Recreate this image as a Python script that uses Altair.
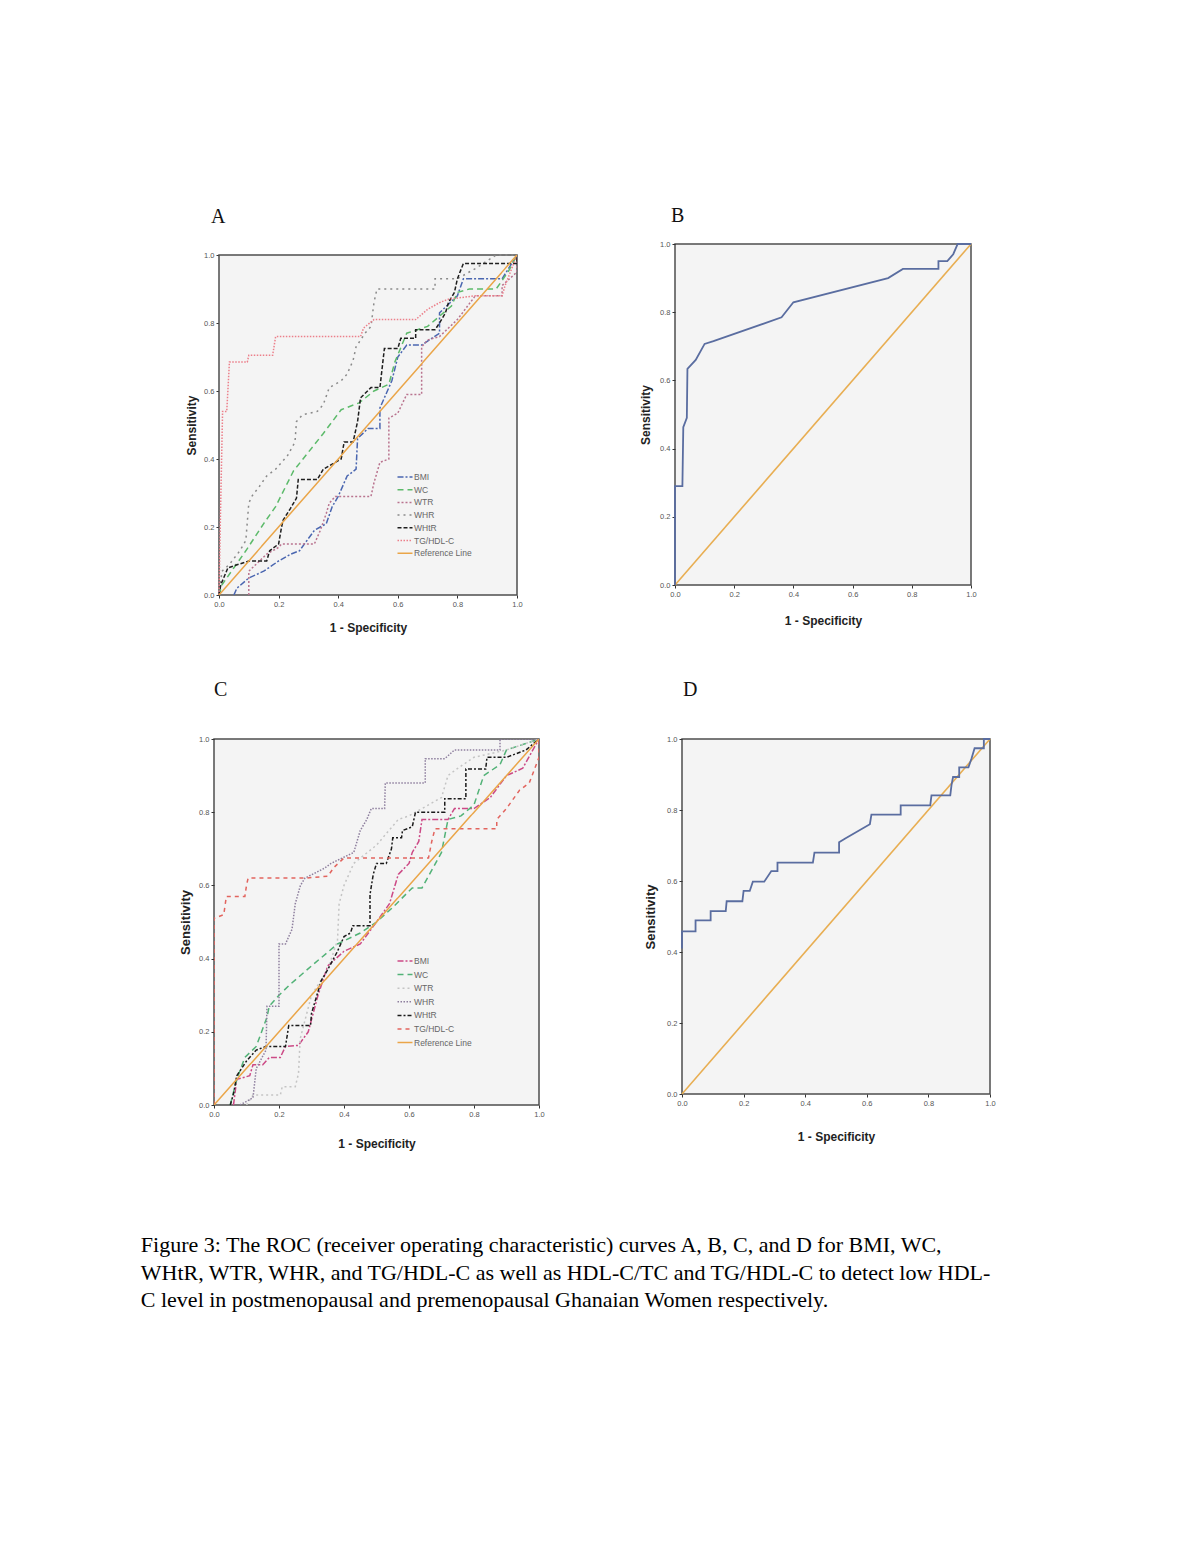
import altair as alt
import pandas as pd

SERIES = ["BMI", "WC", "WTR", "WHR", "WHtR", "TG/HDL-C", "Reference Line"]

# ---------------- Panel A (postmenopausal, anthropometric indices) ----------------
A_BMI_x = [0.05, 0.06, 0.10, 0.15, 0.20, 0.24, 0.27, 0.32, 0.36, 0.38, 0.40, 0.43, 0.46, 0.465, 0.50, 0.54, 0.54, 0.58, 0.60, 0.63, 0.68, 0.74, 0.74, 0.80, 0.82, 0.95, 1.00]
A_BMI_y = [0.00, 0.02, 0.05, 0.07, 0.10, 0.12, 0.13, 0.19, 0.21, 0.26, 0.29, 0.35, 0.37, 0.46, 0.49, 0.49, 0.55, 0.63, 0.70, 0.735, 0.735, 0.77, 0.83, 0.88, 0.93, 0.93, 1.00]

A_WC_x = [0.00, 0.01, 0.05, 0.09, 0.15, 0.19, 0.25, 0.30, 0.35, 0.41, 0.47, 0.52, 0.57, 0.59, 0.63, 0.70, 0.74, 0.78, 0.80, 0.84, 0.93, 0.97, 1.00]
A_WC_y = [0.00, 0.03, 0.08, 0.13, 0.21, 0.26, 0.365, 0.42, 0.475, 0.545, 0.565, 0.60, 0.62, 0.685, 0.77, 0.79, 0.82, 0.85, 0.89, 0.90, 0.90, 0.95, 1.00]

A_WTR_x = [0.10, 0.10, 0.16, 0.20, 0.21, 0.32, 0.34, 0.36, 0.37, 0.39, 0.51, 0.52, 0.54, 0.57, 0.57, 0.60, 0.63, 0.68, 0.68, 0.70, 0.74, 0.80, 0.86, 0.95, 0.95, 1.00, 1.00]
A_WTR_y = [0.00, 0.07, 0.12, 0.14, 0.15, 0.15, 0.19, 0.24, 0.27, 0.29, 0.29, 0.33, 0.39, 0.40, 0.52, 0.535, 0.59, 0.59, 0.73, 0.75, 0.76, 0.81, 0.88, 0.88, 0.91, 0.95, 1.00]

A_WHR_x = [0.00, 0.01, 0.035, 0.07, 0.09, 0.10, 0.11, 0.136, 0.16, 0.19, 0.23, 0.255, 0.26, 0.28, 0.33, 0.35, 0.37, 0.41, 0.43, 0.45, 0.46, 0.49, 0.51, 0.52, 0.53, 0.725, 0.725, 0.80, 0.86, 0.93, 1.00]
A_WHR_y = [0.00, 0.07, 0.09, 0.13, 0.16, 0.27, 0.29, 0.32, 0.35, 0.37, 0.41, 0.45, 0.51, 0.53, 0.54, 0.56, 0.61, 0.63, 0.65, 0.69, 0.73, 0.77, 0.79, 0.86, 0.90, 0.90, 0.93, 0.93, 0.96, 1.00, 1.00]

A_WHtR_x = [0.00, 0.006, 0.03, 0.10, 0.16, 0.17, 0.20, 0.21, 0.215, 0.24, 0.26, 0.266, 0.33, 0.35, 0.41, 0.42, 0.45, 0.465, 0.475, 0.51, 0.54, 0.555, 0.60, 0.61, 0.66, 0.66, 0.725, 0.74, 0.76, 0.77, 0.79, 0.80, 0.82, 1.00, 1.00]
A_WHtR_y = [0.00, 0.03, 0.08, 0.10, 0.10, 0.13, 0.15, 0.20, 0.22, 0.255, 0.285, 0.34, 0.34, 0.37, 0.40, 0.45, 0.45, 0.51, 0.58, 0.61, 0.61, 0.725, 0.725, 0.755, 0.755, 0.78, 0.78, 0.80, 0.83, 0.86, 0.89, 0.93, 0.975, 0.975, 1.00]

A_TG_x = [0.00, 0.005, 0.012, 0.026, 0.035, 0.095, 0.10, 0.18, 0.19, 0.475, 0.485, 0.52, 0.66, 0.70, 0.74, 0.77, 0.86, 0.95, 0.96, 1.00]
A_TG_y = [0.00, 0.24, 0.54, 0.54, 0.685, 0.685, 0.705, 0.705, 0.76, 0.76, 0.785, 0.81, 0.81, 0.84, 0.86, 0.87, 0.88, 0.88, 0.91, 1.00]

REF_X = [0.0, 1.0]
REF_Y = [0.0, 1.0]

# ---------------- Panel B (postmenopausal, HDL-C/TC) ----------------
B_x = [0.00, 0.00, 0.025, 0.028, 0.04, 0.042, 0.07, 0.10, 0.13, 0.36, 0.40, 0.72, 0.77, 0.89, 0.89, 0.92, 0.94, 0.955, 1.00]
B_y = [0.00, 0.29, 0.29, 0.463, 0.49, 0.634, 0.66, 0.707, 0.715, 0.785, 0.829, 0.90, 0.927, 0.927, 0.95, 0.95, 0.97, 1.00, 1.00]

# ---------------- Panel C (premenopausal, anthropometric indices) ----------------
C_BMI_x = [0.06, 0.07, 0.11, 0.12, 0.15, 0.17, 0.204, 0.22, 0.26, 0.29, 0.32, 0.35, 0.40, 0.45, 0.50, 0.54, 0.567, 0.60, 0.61, 0.63, 0.64, 0.72, 0.74, 0.80, 0.85, 0.90, 0.95, 1.00]
C_BMI_y = [0.00, 0.07, 0.08, 0.11, 0.11, 0.13, 0.13, 0.16, 0.163, 0.20, 0.30, 0.38, 0.42, 0.44, 0.50, 0.55, 0.63, 0.66, 0.69, 0.72, 0.78, 0.78, 0.81, 0.81, 0.84, 0.90, 0.92, 1.00]

C_WC_x = [0.05, 0.07, 0.095, 0.13, 0.163, 0.17, 0.20, 0.23, 0.30, 0.38, 0.45, 0.50, 0.55, 0.61, 0.64, 0.70, 0.72, 0.76, 0.80, 0.83, 0.88, 0.90, 1.00]
C_WC_y = [0.00, 0.07, 0.13, 0.16, 0.24, 0.27, 0.30, 0.326, 0.38, 0.44, 0.47, 0.50, 0.54, 0.593, 0.593, 0.69, 0.78, 0.79, 0.82, 0.90, 0.93, 0.97, 1.00]

C_WTR_x = [0.10, 0.12, 0.204, 0.21, 0.25, 0.26, 0.265, 0.30, 0.35, 0.38, 0.385, 0.40, 0.43, 0.50, 0.567, 0.60, 0.70, 0.72, 0.75, 0.80, 0.90, 1.00]
C_WTR_y = [0.00, 0.027, 0.027, 0.05, 0.05, 0.086, 0.18, 0.30, 0.37, 0.45, 0.55, 0.60, 0.66, 0.71, 0.78, 0.79, 0.84, 0.90, 0.92, 0.95, 0.97, 1.00]

C_WHR_x = [0.08, 0.12, 0.13, 0.16, 0.163, 0.20, 0.20, 0.22, 0.24, 0.25, 0.266, 0.28, 0.34, 0.36, 0.43, 0.45, 0.47, 0.484, 0.525, 0.527, 0.65, 0.65, 0.71, 0.74, 0.88, 0.88, 1.00]
C_WHR_y = [0.00, 0.02, 0.10, 0.15, 0.27, 0.27, 0.44, 0.44, 0.48, 0.55, 0.60, 0.62, 0.647, 0.66, 0.69, 0.75, 0.78, 0.81, 0.81, 0.88, 0.88, 0.946, 0.946, 0.97, 0.97, 1.00, 1.00]

C_WHtR_x = [0.05, 0.06, 0.07, 0.10, 0.13, 0.16, 0.22, 0.23, 0.297, 0.30, 0.31, 0.33, 0.35, 0.38, 0.40, 0.42, 0.427, 0.48, 0.48, 0.49, 0.50, 0.53, 0.546, 0.55, 0.577, 0.58, 0.61, 0.62, 0.71, 0.71, 0.775, 0.775, 0.836, 0.84, 0.90, 0.96, 1.00]
C_WHtR_y = [0.00, 0.03, 0.08, 0.12, 0.15, 0.16, 0.16, 0.217, 0.217, 0.25, 0.28, 0.34, 0.37, 0.42, 0.46, 0.47, 0.49, 0.49, 0.575, 0.63, 0.66, 0.66, 0.70, 0.73, 0.73, 0.75, 0.76, 0.80, 0.80, 0.837, 0.837, 0.918, 0.918, 0.95, 0.95, 0.97, 1.00]

C_TG_x = [0.00, 0.00, 0.03, 0.038, 0.095, 0.10, 0.105, 0.28, 0.35, 0.37, 0.40, 0.66, 0.67, 0.68, 0.87, 0.87, 0.90, 0.94, 0.97, 1.00, 1.00]
C_TG_y = [0.00, 0.51, 0.52, 0.57, 0.57, 0.60, 0.62, 0.62, 0.625, 0.65, 0.675, 0.675, 0.72, 0.755, 0.755, 0.78, 0.81, 0.86, 0.88, 0.95, 1.00]

# ---------------- Panel D (premenopausal, TG/HDL-C) ----------------
D_x = [0.00, 0.00, 0.044, 0.044, 0.093, 0.093, 0.142, 0.145, 0.196, 0.20, 0.22, 0.23, 0.267, 0.29, 0.31, 0.31, 0.425, 0.43, 0.51, 0.51, 0.53, 0.61, 0.615, 0.71, 0.71, 0.806, 0.81, 0.871, 0.875, 0.88, 0.90, 0.90, 0.93, 0.94, 0.95, 0.98, 0.98, 1.00]
D_y = [0.41, 0.458, 0.458, 0.489, 0.489, 0.515, 0.515, 0.543, 0.543, 0.572, 0.572, 0.598, 0.598, 0.628, 0.628, 0.652, 0.652, 0.68, 0.68, 0.709, 0.72, 0.76, 0.787, 0.787, 0.813, 0.813, 0.841, 0.841, 0.87, 0.893, 0.893, 0.92, 0.92, 0.945, 0.974, 0.974, 1.00, 1.00]

A_COLORS = ["#4a66b0", "#5cba6a", "#b9738e", "#8a8a8a", "#1e1e1e", "#ec7f8a", "#eaa548"]
C_COLORS = ["#cc4a86", "#52b277", "#c4c4c4", "#8e7f9e", "#1a1a1a", "#e2645e", "#eaa548"]
A_DASHES = [[6, 2, 2, 2], [6, 4], [2, 2], [2, 4], [4, 2], [1.5, 1.5], [1, 0]]
C_DASHES = [[6, 2, 2, 2], [6, 4], [2, 3], [1.5, 1.5], [4, 2, 2, 2], [4, 4], [1, 0]]
WIDTHS = [1.5, 1.5, 1.5, 1.5, 2.2, 1.5, 1.6]

CURVE_COLOR = "#5a6da0"
REF_COLOR = "#e8ae52"
PLOT_FILL = "#f4f4f4"
PLOT_STROKE = "#4d4d4d"

CAPTION = [
    "Figure 3: The ROC (receiver operating characteristic) curves A, B, C, and D for BMI, WC,",
    "WHtR, WTR, WHR, and TG/HDL-C as well as HDL-C/TC and TG/HDL-C to detect low HDL-",
    "C level in postmenopausal and premenopausal Ghanaian Women respectively.",
]

SANS = "Liberation Sans"
SERIF = "Liberation Serif"


def axis(title, title_size, title_pad, offset=0):
    return alt.Axis(
        values=[0, 0.2, 0.4, 0.6, 0.8, 1.0], format=".1f", grid=False, domain=False,
        tickSize=3, tickColor="#333", tickWidth=1, labelFontSize=7.5, labelColor="#555",
        labelFont=SANS, labelPadding=2, labelFlush=False, title=title, titleFont=SANS,
        titleFontSize=title_size, titleFontWeight="bold", titleColor="#222",
        titlePadding=title_pad, offset=offset,
    )


def xenc(tp, rng=None, offset=0):
    sc = alt.Scale(domain=[0, 1], nice=False, range=rng) if rng else alt.Scale(domain=[0, 1], nice=False)
    return alt.X("x:Q", scale=sc, axis=axis("1 - Specificity", 12, tp, offset))


def yenc(ts, tp, rng=None, offset=0):
    sc = alt.Scale(domain=[0, 1], nice=False, range=rng) if rng else alt.Scale(domain=[0, 1], nice=False)
    return alt.Y("y:Q", scale=sc, axis=axis("Sensitivity", ts, tp, offset))


def panel_title(t, offset, dx):
    return alt.TitleParams(t, anchor="start", frame="group", font=SERIF, fontSize=20,
                           fontWeight="normal", color="#111", offset=offset, dx=dx,
                           baseline="alphabetic")


def frame(pairs):
    rows = []
    for name, xs, ys in pairs:
        for i, (x, y) in enumerate(zip(xs, ys)):
            rows.append({"s": name, "x": x, "y": y, "i": i})
    return pd.DataFrame(rows)


def legend(lx, ly, row_pad):
    return alt.Legend(orient="none", legendX=lx, legendY=ly, title=None,
                      symbolType="M-1.5,0H1.5", symbolSize=100, symbolStrokeWidth=1.5,
                      labelFontSize=8.5, labelFont=SANS, labelColor="#666",
                      rowPadding=row_pad, labelOffset=3, padding=0)


def curves(df, colors, dashes, leg, x, y):
    return alt.Chart(df).mark_line(clip=True).encode(
        x=x, y=y,
        color=alt.Color("s:N", scale=alt.Scale(domain=SERIES, range=colors), legend=leg),
        strokeDash=alt.StrokeDash("s:N", scale=alt.Scale(domain=SERIES, range=dashes), legend=leg),
        strokeWidth=alt.StrokeWidth("s:N", scale=alt.Scale(domain=SERIES, range=WIDTHS), legend=None),
        order=alt.Order("i:Q"),
    )


# Panel A: its view is a little taller and wider than its plot frame, so that the
# frame sits lower and further right than panel B / panel C, as in the original figure.
A_W, A_H, A_DX, A_DY = 303, 351, 5, 11
a_df = frame([("BMI", A_BMI_x, A_BMI_y), ("WC", A_WC_x, A_WC_y), ("WTR", A_WTR_x, A_WTR_y),
              ("WHR", A_WHR_x, A_WHR_y), ("WHtR", A_WHtR_x, A_WHtR_y), ("TG/HDL-C", A_TG_x, A_TG_y),
              ("Reference Line", REF_X, REF_Y)])
a_x = xenc(15, [A_DX, A_W])
a_y = yenc(12, 5, [A_H, A_DY], offset=-A_DX)
a_box = alt.Chart(pd.DataFrame({"x": [REF_X[0]], "x2": [REF_X[1]], "y": [REF_Y[0]], "y2": [REF_Y[1]]})).mark_rect(
    fill=PLOT_FILL, stroke=PLOT_STROKE, strokeWidth=1.5).encode(x=a_x, x2="x2:Q", y=a_y, y2="y2:Q")
a_lines = curves(a_df, A_COLORS, A_DASHES, legend(185, 227, 1.7), a_x, a_y)
panel_a = alt.layer(a_box, a_lines).properties(
    width=A_W, height=A_H, title=panel_title("A", 1, -3),
    view=alt.ViewBackground(fill="transparent", stroke="transparent"))


def single_panel(xs, ys, w, h, title, ts, tp_x, tp_y):
    curve = alt.Chart(frame([("c", xs, ys)])).mark_line(color=CURVE_COLOR, strokeWidth=1.8).encode(
        x=xenc(tp_x), y=yenc(ts, tp_y), order=alt.Order("i:Q"))
    ref = alt.Chart(frame([("r", REF_X, REF_Y)])).mark_line(color=REF_COLOR, strokeWidth=1.6).encode(
        x="x:Q", y="y:Q", order=alt.Order("i:Q"))
    return alt.layer(ref, curve).properties(width=w, height=h, title=title)


panel_b = single_panel(B_x, B_y, 296, 341, panel_title("B", -2, -4), 12, 18, 7)

c_df = frame([("BMI", C_BMI_x, C_BMI_y), ("WC", C_WC_x, C_WC_y), ("WTR", C_WTR_x, C_WTR_y),
              ("WHR", C_WHR_x, C_WHR_y), ("WHtR", C_WHtR_x, C_WHtR_y), ("TG/HDL-C", C_TG_x, C_TG_y),
              ("Reference Line", REF_X, REF_Y)])
panel_c = curves(c_df, C_COLORS, C_DASHES, legend(185, 216, 2.6), xenc(21), yenc(13, 6)).properties(
    width=325, height=366, title=panel_title("C", 19, 0))

panel_d = single_panel(D_x, D_y, 308, 355, panel_title("D", 19, 1), 13, 25, 9)

RES = dict(color="independent", strokeDash="independent", strokeWidth="independent")

top = alt.hconcat(panel_a, panel_b, spacing=115).resolve_scale(**RES).resolve_legend(**RES)
bottom = alt.hconcat(panel_c, panel_d, spacing=98).resolve_scale(**RES).resolve_legend(**RES)

chart = alt.vconcat(top, bottom, spacing=44).resolve_scale(**RES).resolve_legend(**RES).properties(
    title=alt.TitleParams(CAPTION, orient="bottom", anchor="start", font=SERIF, fontSize=22,
                          fontWeight="normal", color="#000", lineHeight=27.5, offset=85, dx=-38),
    padding={"left": 132, "top": 197, "right": 10, "bottom": 10},
    background="white",
).configure_view(fill=PLOT_FILL, stroke=PLOT_STROKE, strokeWidth=1.5)

chart.save("out.html", embed_options={"renderer": "svg", "actions": False})
